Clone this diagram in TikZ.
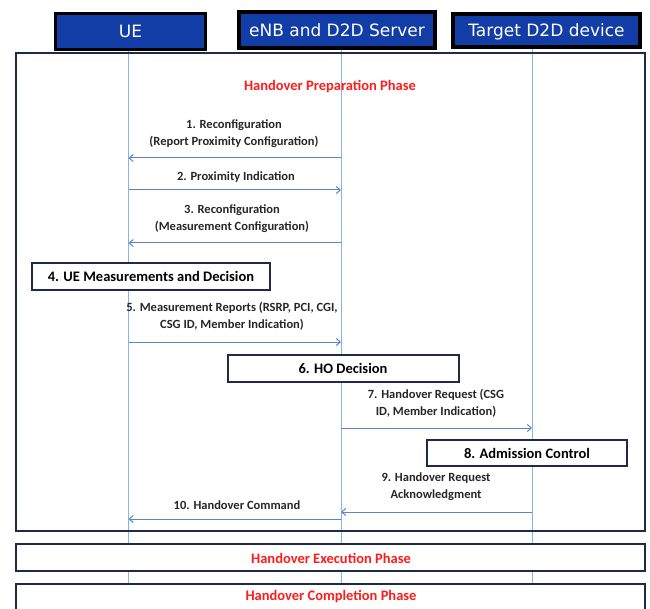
\documentclass[tikz,border=0pt]{standalone}
\usepackage{fontspec}
\setmainfont{Carlito}
\newfontfamily\hdrfont{DejaVu Sans}
\usetikzlibrary{arrows.meta}
\definecolor{hdrblue}{HTML}{123CA6}
\definecolor{navy}{HTML}{1F2B45}
\definecolor{lifeblue}{HTML}{8AB2E2}
\definecolor{msgblue}{HTML}{5A86C6}
\definecolor{phasered}{HTML}{FF1C1C}
\definecolor{txtgray}{HTML}{262626}
\begin{document}
\begin{tikzpicture}[x=1pt,y=-1pt,
  hdr/.style={draw=black, line width=3.5pt, fill=hdrblue, text=white,
    font=\hdrfont\fontsize{17}{20}\selectfont, inner sep=0pt, text depth=-2pt},
  life/.style={draw=lifeblue, line width=1pt},
  msg/.style={draw=msgblue, line width=1pt, -{Straight Barb[length=4pt,width=7pt]}},
  lbl/.style={text=txtgray, font=\bfseries\fontsize{12.5}{17}\selectfont, align=center, inner sep=0pt},
  stepbox/.style={draw=navy, line width=2pt, fill=white, text=black,
    font=\bfseries\fontsize{14.5}{17}\selectfont, inner sep=0pt},
  phasebox/.style={draw=navy, line width=2pt, inner sep=0pt},
  phasetitle/.style={text=phasered, font=\bfseries\fontsize{14.5}{17}\selectfont, inner sep=0pt}
]
\useasboundingbox (0,0) rectangle (650,609);

% header boxes
\node[hdr, minimum width=150pt, minimum height=36pt] (ue) at (130.5,31.5) {UE};
\node[hdr, minimum width=196pt, minimum height=36pt] (enb) at (337,30) {eNB and D2D Server};
\node[hdr, minimum width=187pt, minimum height=33pt] (tgt) at (546.5,30.5) {Target D2D device};

% lifelines
\coordinate (bot) at (0,584);
\draw[life] (ue.south) ++(-2,0) coordinate (uetop) -- (uetop |- bot);
\draw[life] (enb.south) ++(4,0) coordinate (enbtop) -- (enbtop |- bot);
\draw[life] (tgt.south) ++(-14.5,0) coordinate (tgttop) -- (tgttop |- bot);

% preparation frame
\node[phasebox, minimum width=629pt, minimum height=478pt] (prep) at (330.5,292) {};
\node[phasetitle] (preptitle) at (330,87) {Handover Preparation Phase};

% messages
\coordinate (u1) at (uetop |- 0,158);  \coordinate (e1) at (enbtop |- 0,158);
\draw[msg] (e1) -- (u1);
\node[lbl] (l1) at (234,134) {1. Reconfiguration\\(Report Proximity Configuration)};

\coordinate (u2) at (uetop |- 0,190);  \coordinate (e2) at (enbtop |- 0,190);
\draw[msg] (u2) -- (e2);
\node[lbl] (l2) at (236,177) {2. Proximity Indication};

\coordinate (u3) at (uetop |- 0,243);  \coordinate (e3) at (enbtop |- 0,243);
\draw[msg] (e3) -- (u3);
\node[lbl] (l3) at (232,218.5) {3. Reconfiguration\\(Measurement Configuration)};

\node[stepbox, minimum width=238pt, minimum height=27pt] (s4) at (151,276.5) {4. UE Measurements and Decision};

\coordinate (u5) at (uetop |- 0,342);  \coordinate (e5) at (enbtop |- 0,342);
\draw[msg] (u5) -- (e5);
\node[lbl] (l5) at (232,316.5) {5. Measurement Reports (RSRP, PCI, CGI,\\CSG ID, Member Indication)};

\node[stepbox, minimum width=231pt, minimum height=27pt] (s6) at (343,368.5) {6. HO Decision};

\coordinate (e7) at (enbtop |- 0,428);  \coordinate (t7) at (tgttop |- 0,428);
\draw[msg] (e7) -- (t7);
\node[lbl] (l7) at (436,403.5) {7. Handover Request (CSG\\ID, Member Indication)};

\node[stepbox, minimum width=200pt, minimum height=26pt] (s8) at (527,453) {8. Admission Control};

\coordinate (t9) at (tgttop |- 0,512);  \coordinate (e9) at (enbtop |- 0,512);
\draw[msg] (t9) -- (e9);
\node[lbl] (l9) at (436,487) {9. Handover Request\\Acknowledgment};

\coordinate (e10) at (enbtop |- 0,519);  \coordinate (u10) at (uetop |- 0,519);
\draw[msg] (e10) -- (u10);
\node[lbl] (l10) at (237,505) {10. Handover Command};

% later phases
\node[phasebox, fill=white, minimum width=629pt, minimum height=27pt] (exec) at (330.5,557.5) {};
\node[phasetitle] (exectitle) at (331,558) {Handover Execution Phase};
\node[phasebox, fill=white, minimum width=629pt, minimum height=30pt] (comp) at (330.5,599) {};
\node[phasetitle] (comptitle) at (331,597) {Handover Completion Phase};
\end{tikzpicture}
\end{document}
